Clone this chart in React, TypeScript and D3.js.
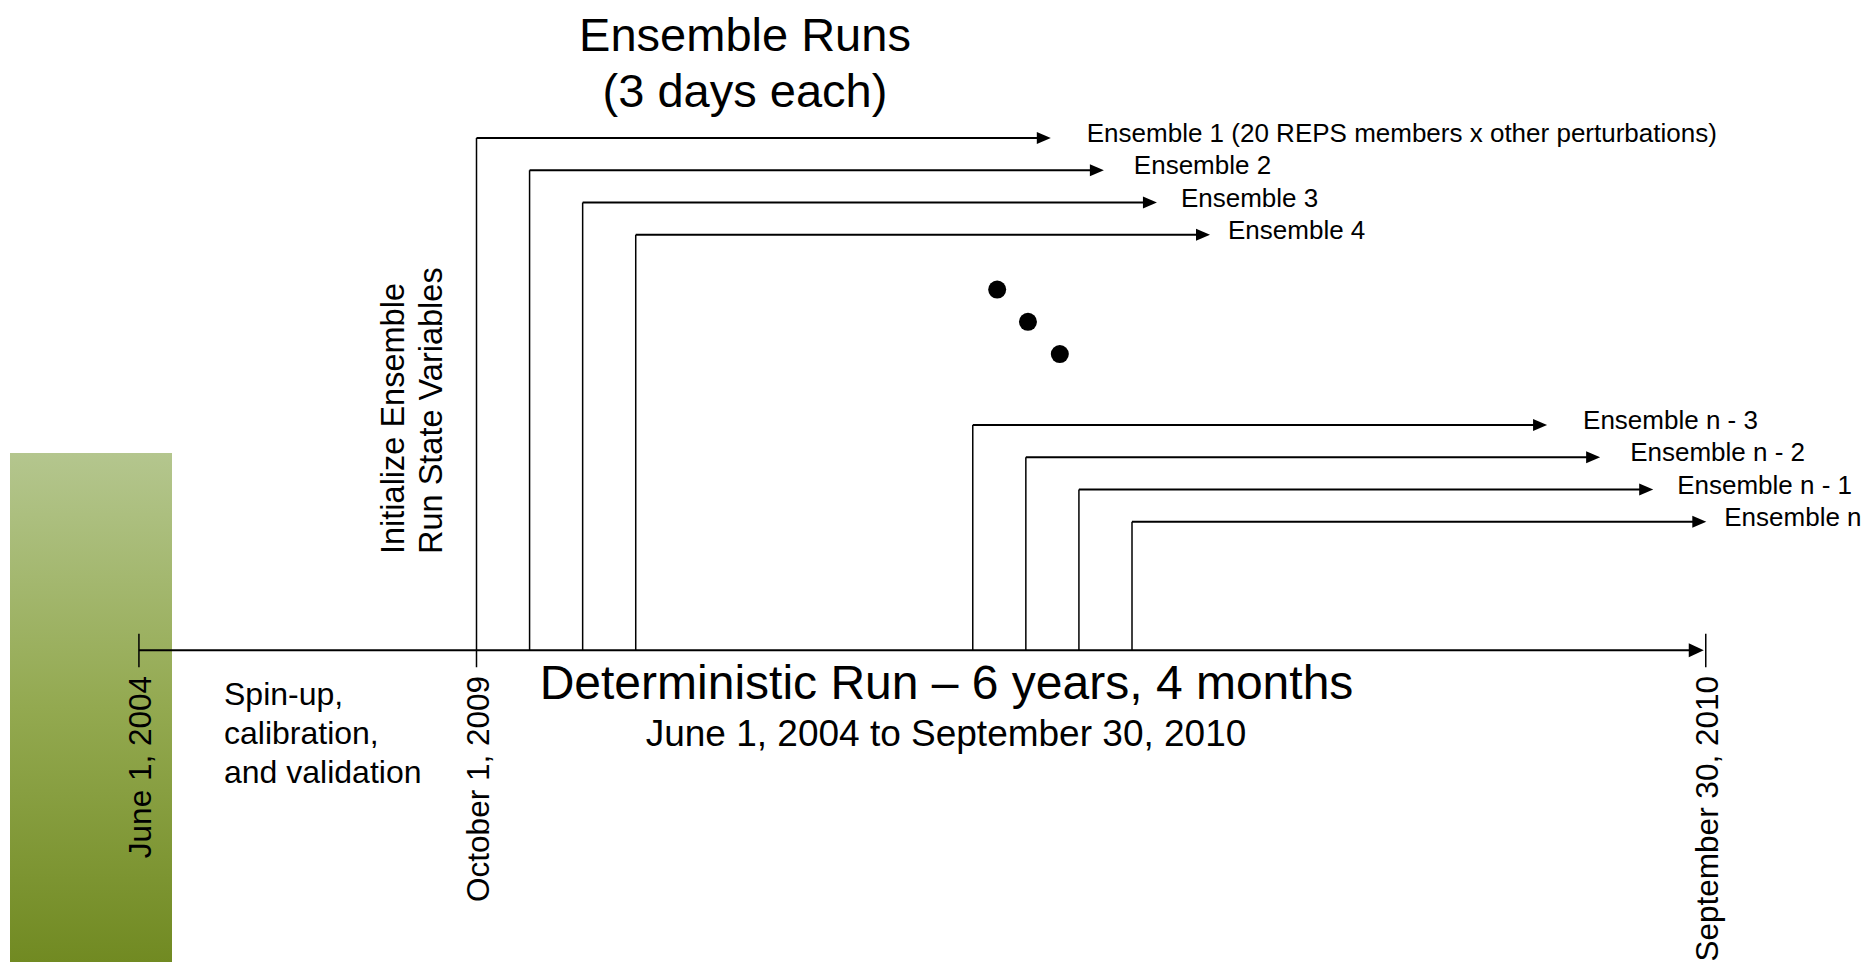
import React from "react";
import * as d3 from "d3";

// ---- data ----
const timelineLabels = ["June 1, 2004", "October 1, 2009", "September 30, 2010"];
const timelineSlots = [-6.36, 0, 23.16];

const ensembleLabels = [
  "Ensemble 1 (20 REPS members x other perturbations)",
  "Ensemble 2",
  "Ensemble 3",
  "Ensemble 4",
  "Ensemble n - 3",
  "Ensemble n - 2",
  "Ensemble n - 1",
  "Ensemble n",
];
const ensembleStartSlots = [0, 1, 2, 3, 9.35, 10.35, 11.35, 12.35];
const ensembleRows = [0, 1, 2, 3, 8.9, 9.9, 10.9, 11.9];
const runLengthSlots = 10.82;

const ellipsisSlots = [9.81, 10.39, 10.99];
const ellipsisRows = [4.7, 5.7, 6.7];

const axisRow = 15.88;

const titleLines = ["Ensemble Runs", "(3 days each)"];
const initLines = ["Initialize Ensemble", "Run State Variables"];
const spinLines = ["Spin-up,", "calibration,", "and validation"];
const detTitle = "Deterministic Run \u2013 6 years, 4 months";
const detSub = "June 1, 2004 to September 30, 2010";

const W = 1868;
const H = 962;
const FONT = "'Liberation Sans', Arial, Helvetica, sans-serif";

export default function App() {
  const x = d3.scaleLinear().domain([0, 12.35]).range([476.5, 1132]);
  const y = d3.scaleLinear().domain([0, 11.9]).range([138, 521.8]);
  const axisY = y(axisRow);
  const line = d3.line<[number, number]>();

  const arrowHead = (tipX: number, yy: number, len: number, half: number) =>
    line([
      [tipX, yy],
      [tipX - len, yy - half],
      [tipX - len, yy + half],
      [tipX, yy],
    ]) + "Z";

  const startX = x(timelineSlots[0]);
  const endX = x(timelineSlots[2]);

  return (
    <svg
      width={W}
      height={H}
      style={{ position: "absolute", left: 0, top: 0, display: "block", background: "#fff" }}
      fontFamily={FONT}
    >
      <defs>
        <linearGradient id="greenBar" x1="0" y1="0" x2="0" y2="1">
          <stop offset="0%" stopColor="#b4c68e" />
          <stop offset="50%" stopColor="#93a950" />
          <stop offset="100%" stopColor="#718a22" />
        </linearGradient>
      </defs>

      {/* green bar */}
      <rect x={10} y={453} width={162} height={H - 453} fill="url(#greenBar)" />

      {/* title */}
      {titleLines.map((t, i) => (
        <text key={t} x={745} y={51 + i * 56} fontSize={47} textAnchor="middle" fill="#000">
          {t}
        </text>
      ))}

      {/* ensemble runs */}
      {ensembleLabels.map((lab, i) => {
        const x0 = x(ensembleStartSlots[i]);
        const yy = y(ensembleRows[i]);
        const tip = x(ensembleStartSlots[i] + runLengthSlots);
        const bottom = i === 0 ? axisY + 17 : axisY;
        return (
          <g key={lab}>
            <path d={line([[x0, bottom], [x0, yy]]) as string} stroke="#000" strokeWidth={1.5} fill="none" />
            <path d={line([[x0, yy], [tip - 10, yy]]) as string} stroke="#000" strokeWidth={2} fill="none" />
            <path d={arrowHead(tip, yy, 14, 6)} fill="#000" />
            <text x={tip + 36 - 6 * (i % 4)} y={yy + 4} fontSize={26} fill="#000">
              {lab}
            </text>
          </g>
        );
      })}

      {/* ellipsis dots */}
      {ellipsisSlots.map((s, i) => (
        <circle key={i} cx={x(s)} cy={y(ellipsisRows[i])} r={9} fill="#000" />
      ))}

      {/* main deterministic axis */}
      <path d={line([[startX, axisY], [endX - 12, axisY]]) as string} stroke="#000" strokeWidth={2} fill="none" />
      <path d={arrowHead(endX - 2, axisY, 15, 7)} fill="#000" />
      {[timelineSlots[0], timelineSlots[2]].map((s, i) => (
        <path
          key={i}
          d={line([[x(s), axisY - 16.5], [x(s), axisY + 17]]) as string}
          stroke="#000"
          strokeWidth={1.5}
          fill="none"
        />
      ))}

      {/* timeline date labels */}
      {timelineLabels.map((t, i) => (
        <text
          key={t}
          transform={`translate(${x(timelineSlots[i]) + 12},${676}) rotate(-90)`}
          fontSize={31.5}
          textAnchor="end"
          fill="#000"
        >
          {t}
        </text>
      ))}

      {/* initialize label */}
      {initLines.map((t, i) => (
        <text
          key={t}
          transform={`translate(${404 + i * 38},${554}) rotate(-90)`}
          fontSize={32.5}
          textAnchor="start"
          fill="#000"
        >
          {t}
        </text>
      ))}

      {/* spin-up label */}
      {spinLines.map((t, i) => (
        <text key={t} x={224} y={705 + i * 39} fontSize={32} fill="#000">
          {t}
        </text>
      ))}

      {/* deterministic run labels */}
      <text x={946.5} y={699} fontSize={48} textAnchor="middle" fill="#000">
        {detTitle}
      </text>
      <text x={946} y={746} fontSize={37} textAnchor="middle" fill="#000">
        {detSub}
      </text>
    </svg>
  );
}
